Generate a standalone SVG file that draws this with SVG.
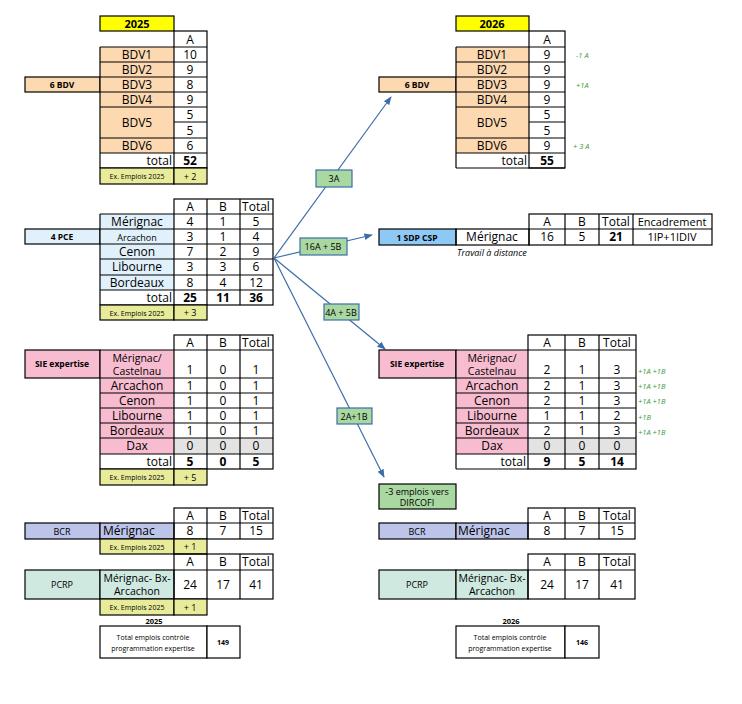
<svg xmlns="http://www.w3.org/2000/svg" width="742" height="704" viewBox="0 0 742 704">
<defs>
<style>
text{font-family:"Open Sans","Liberation Sans",sans-serif;fill:#000}
.c{stroke:#000;stroke-width:1.2}
.t{font-size:12px;text-anchor:middle}
.m{font-size:10.5px;text-anchor:middle}
.s{font-size:10px;font-weight:bold;text-anchor:middle}
.e{font-size:7px;text-anchor:middle}
.b{font-weight:bold}
.g{font-size:7.5px;fill:#3a9a3a;font-style:italic}
.lbl{fill:#a9d8a1;stroke:#3b6ea8;stroke-width:1.2}
.conn{stroke:#3b6ea8;stroke-width:1.2;fill:none;marker-end:url(#ah)}
.or{fill:#fcd9b0}.bl{fill:#e1f1fb}.pk{fill:#f8bcd0}.gr{fill:#e3e3e3}.ye{fill:#e8ec9a}.pu{fill:#bcc4ea}.tl{fill:#cfe9e1}
</style>
<marker id="ah" viewBox="0 0 10 10" refX="9" refY="5" markerWidth="7" markerHeight="7" orient="auto"><path d="M0,1 L10,5 L0,9 z" fill="#3b6ea8"/></marker>
</defs>
<rect width="742" height="704" fill="#fff"/>

<g id="connectors">
<line class="conn" x1="274" y1="258" x2="391" y2="97"/>
<line class="conn" x1="274" y1="258" x2="372" y2="235"/>
<line class="conn" x1="274" y1="258" x2="385" y2="349"/>
<line class="conn" x1="274" y1="258" x2="384" y2="477"/>
<rect class="lbl" x="316" y="170" width="36" height="17"/><text class="e" x="334" y="182" style="font-size:9px">3A</text>
<rect class="lbl" x="300" y="238" width="47" height="17"/><text class="e" x="323" y="250" style="font-size:9px">16A + 5B</text>
<rect class="lbl" x="324" y="304" width="35" height="16"/><text class="e" x="341" y="316" style="font-size:9px">4A + 5B</text>
<rect class="lbl" x="337" y="408" width="35" height="16"/><text class="e" x="354" y="420" style="font-size:9px">2A+1B</text>
</g>

<g id="bdv2025">
<rect x="100" y="16" width="74" height="15" fill="#ffff00" class="c"/><text class="s" x="137" y="28" style="font-size:11px">2025</text>
<rect x="25" y="77" width="75" height="15" class="or c"/><text class="s" x="62" y="88" style="font-size:8.5px">6 BDV</text>
<rect x="100" y="47" width="74" height="106" class="or"/>
<g class="c" fill="none">
<rect x="174" y="31" width="33" height="137"/>
<line x1="100" y1="47" x2="207" y2="47"/><line x1="100" y1="62" x2="207" y2="62"/><line x1="100" y1="77" x2="207" y2="77"/><line x1="100" y1="92" x2="207" y2="92"/><line x1="100" y1="107" x2="207" y2="107"/><line x1="174" y1="122" x2="207" y2="122"/><line x1="100" y1="138" x2="207" y2="138"/><line x1="100" y1="153" x2="207" y2="153"/><line x1="100" y1="168" x2="207" y2="168"/>
<line x1="100" y1="47" x2="100" y2="168"/>
</g>
<rect x="100" y="168" width="74" height="16" class="ye c"/><rect x="174" y="168" width="33" height="16" class="ye c"/>
<text class="t" x="190" y="44">A</text>
<text class="t" x="137" y="59">BDV1</text><text class="t" x="190" y="59">10</text>
<text class="t" x="137" y="74">BDV2</text><text class="t" x="190" y="74">9</text>
<text class="t" x="137" y="89">BDV3</text><text class="t" x="190" y="89">8</text>
<text class="t" x="137" y="104">BDV4</text><text class="t" x="190" y="104">9</text>
<text class="t" x="137" y="127">BDV5</text><text class="t" x="190" y="119">5</text><text class="t" x="190" y="135">5</text>
<text class="t" x="137" y="150">BDV6</text><text class="t" x="190" y="150">6</text>
<text class="t" x="172" y="165" style="text-anchor:end">total</text><text class="t b" x="190" y="165">52</text>
<text class="e" x="137" y="179">Ex. Emplois 2025</text><text class="e" x="190" y="180" style="font-size:9px">+ 2</text>
</g>

<g id="pce2025">
<rect x="25" y="229" width="75" height="15" class="bl c"/><text class="s" x="62" y="240" style="font-size:8.5px">4 PCE</text>
<rect x="100" y="214" width="74" height="76" class="bl"/>
<g class="c" fill="none">
<rect x="174" y="199" width="99" height="106"/>
<line x1="207" y1="199" x2="207" y2="305"/><line x1="240" y1="199" x2="240" y2="305"/>
<line x1="100" y1="214" x2="273" y2="214"/><line x1="100" y1="229" x2="273" y2="229"/><line x1="100" y1="244" x2="273" y2="244"/><line x1="100" y1="259" x2="273" y2="259"/><line x1="100" y1="275" x2="273" y2="275"/><line x1="100" y1="290" x2="273" y2="290"/><line x1="100" y1="305" x2="174" y2="305"/>
<line x1="100" y1="214" x2="100" y2="305"/>
</g>
<rect x="100" y="305" width="74" height="15" class="ye c"/><rect x="174" y="305" width="33" height="15" class="ye c"/>
<text class="t" x="190" y="211">A</text><text class="t" x="223" y="211">B</text><text class="t" x="256" y="211">Total</text>
<text class="t" x="137" y="226">Mérignac</text><text class="t" x="190" y="226">4</text><text class="t" x="223" y="226">1</text><text class="t" x="256" y="226">5</text>
<text class="t" x="137" y="241" style="font-size:9px">Arcachon</text><text class="t" x="190" y="241">3</text><text class="t" x="223" y="241">1</text><text class="t" x="256" y="241">4</text>
<text class="t" x="137" y="256">Cenon</text><text class="t" x="190" y="256">7</text><text class="t" x="223" y="256">2</text><text class="t" x="256" y="256">9</text>
<text class="t" x="137" y="271">Libourne</text><text class="t" x="190" y="271">3</text><text class="t" x="223" y="271">3</text><text class="t" x="256" y="271">6</text>
<text class="t" x="137" y="287">Bordeaux</text><text class="t" x="190" y="287">8</text><text class="t" x="223" y="287">4</text><text class="t" x="256" y="287">12</text>
<text class="t" x="172" y="302" style="text-anchor:end">total</text><text class="t b" x="190" y="302">25</text><text class="t b" x="223" y="302">11</text><text class="t b" x="256" y="302">36</text>
<text class="e" x="137" y="316">Ex. Emplois 2025</text><text class="e" x="190" y="316" style="font-size:9px">+ 3</text>
</g>

<g id="sie2025">
<rect x="25" y="350" width="75" height="28" class="pk c"/><text class="s" x="62" y="367" style="font-size:8.5px">SIE expertise</text>
<rect x="100" y="350" width="74" height="104" class="pk"/><rect x="174" y="438" width="99" height="16" class="gr"/>
<g class="c" fill="none">
<rect x="174" y="335" width="99" height="134"/>
<line x1="207" y1="335" x2="207" y2="469"/><line x1="240" y1="335" x2="240" y2="469"/>
<line x1="100" y1="350" x2="273" y2="350"/><line x1="100" y1="378" x2="273" y2="378"/><line x1="100" y1="393" x2="273" y2="393"/><line x1="100" y1="408" x2="273" y2="408"/><line x1="100" y1="423" x2="273" y2="423"/><line x1="100" y1="438" x2="273" y2="438"/><line x1="100" y1="454" x2="273" y2="454"/><line x1="100" y1="469" x2="174" y2="469"/>
<line x1="100" y1="350" x2="100" y2="469"/>
</g>
<rect x="100" y="469" width="74" height="16" class="ye c"/><rect x="174" y="469" width="33" height="16" class="ye c"/>
<text class="t" x="190" y="347">A</text><text class="t" x="223" y="347">B</text><text class="t" x="256" y="347">Total</text>
<text class="m" x="137" y="362">Mérignac/</text><text class="m" x="137" y="375">Castelnau</text><text class="t" x="190" y="374">1</text><text class="t" x="223" y="374">0</text><text class="t" x="256" y="374">1</text>
<text class="t" x="137" y="390">Arcachon</text><text class="t" x="190" y="390">1</text><text class="t" x="223" y="390">0</text><text class="t" x="256" y="390">1</text>
<text class="t" x="137" y="405">Cenon</text><text class="t" x="190" y="405">1</text><text class="t" x="223" y="405">0</text><text class="t" x="256" y="405">1</text>
<text class="t" x="137" y="420">Libourne</text><text class="t" x="190" y="420">1</text><text class="t" x="223" y="420">0</text><text class="t" x="256" y="420">1</text>
<text class="t" x="137" y="435">Bordeaux</text><text class="t" x="190" y="435">1</text><text class="t" x="223" y="435">0</text><text class="t" x="256" y="435">1</text>
<text class="t" x="137" y="450">Dax</text><text class="t" x="190" y="450">0</text><text class="t" x="223" y="450">0</text><text class="t" x="256" y="450">0</text>
<text class="t" x="172" y="466" style="text-anchor:end">total</text><text class="t b" x="190" y="466">5</text><text class="t b" x="223" y="466">0</text><text class="t b" x="256" y="466">5</text>
<text class="e" x="137" y="480">Ex. Emplois 2025</text><text class="e" x="190" y="481" style="font-size:9px">+ 5</text>
</g>

<g id="bcr2025">
<rect x="25" y="523" width="75" height="16" class="pu c"/><text class="t" x="62" y="535" style="font-size:9px">BCR</text>
<rect x="100" y="523" width="74" height="16" class="pu c"/><text class="t" x="103" y="535" style="text-anchor:start">Mérignac</text>
<g class="c" fill="none"><rect x="174" y="508" width="99" height="31"/><line x1="207" y1="508" x2="207" y2="539"/><line x1="240" y1="508" x2="240" y2="539"/><line x1="174" y1="523" x2="273" y2="523"/></g>
<text class="t" x="190" y="520">A</text><text class="t" x="223" y="520">B</text><text class="t" x="256" y="520">Total</text>
<text class="t" x="190" y="535">8</text><text class="t" x="223" y="535">7</text><text class="t" x="256" y="535">15</text>
<rect x="100" y="539" width="74" height="15" class="ye c"/><rect x="174" y="539" width="33" height="15" class="ye c"/>
<text class="e" x="137" y="550">Ex. Emplois 2025</text><text class="e" x="190" y="550" style="font-size:9px">+ 1</text>
</g>

<g id="pcrp2025">
<rect x="25" y="570" width="75" height="29" class="tl c"/><text class="t" x="62" y="588" style="font-size:9px">PCRP</text>
<rect x="100" y="570" width="74" height="29" class="tl c"/><text class="m" x="137" y="582">Mérignac- Bx-</text><text class="m" x="137" y="595">Arcachon</text>
<g class="c" fill="none"><rect x="174" y="554" width="99" height="45"/><line x1="207" y1="554" x2="207" y2="599"/><line x1="240" y1="554" x2="240" y2="599"/><line x1="174" y1="570" x2="273" y2="570"/></g>
<text class="t" x="190" y="566">A</text><text class="t" x="223" y="566">B</text><text class="t" x="256" y="566">Total</text>
<text class="t" x="190" y="589">24</text><text class="t" x="223" y="589">17</text><text class="t" x="256" y="589">41</text>
<rect x="100" y="599" width="74" height="16" class="ye c"/><rect x="174" y="599" width="33" height="16" class="ye c"/>
<text class="e" x="137" y="610">Ex. Emplois 2025</text><text class="e" x="190" y="611" style="font-size:9px">+ 1</text>
</g>

<g id="total2025">
<text class="s" x="154" y="624" style="font-size:7.5px">2025</text>
<rect x="100" y="626" width="107" height="32" class="c" fill="#fff"/><rect x="207" y="626" width="33" height="32" class="c" fill="#fff"/>
<text class="e" x="153" y="640">Total emplois contrôle</text><text class="e" x="153" y="651">programmation expertise</text>
<text class="s" x="223" y="645" style="font-size:7px">149</text>
</g>

<g id="bdv2026">
<rect x="456" y="16" width="73" height="15" fill="#ffff00" class="c"/><text class="s" x="492" y="28" style="font-size:11px">2026</text>
<rect x="379" y="77" width="77" height="15" class="or c"/><text class="s" x="417" y="88" style="font-size:8.5px">6 BDV</text>
<rect x="456" y="47" width="73" height="106" class="or"/>
<g class="c" fill="none">
<rect x="529" y="31" width="36" height="137"/>
<line x1="456" y1="47" x2="565" y2="47"/><line x1="456" y1="62" x2="565" y2="62"/><line x1="456" y1="77" x2="565" y2="77"/><line x1="456" y1="92" x2="565" y2="92"/><line x1="456" y1="107" x2="565" y2="107"/><line x1="529" y1="122" x2="565" y2="122"/><line x1="456" y1="138" x2="565" y2="138"/><line x1="456" y1="153" x2="565" y2="153"/><line x1="456" y1="168" x2="565" y2="168"/>
<line x1="456" y1="47" x2="456" y2="168"/>
</g>
<text class="t" x="547" y="44">A</text>
<text class="t" x="492" y="59">BDV1</text><text class="t" x="547" y="59">9</text><text class="g" x="576" y="58">-1 A</text>
<text class="t" x="492" y="74">BDV2</text><text class="t" x="547" y="74">9</text>
<text class="t" x="492" y="89">BDV3</text><text class="t" x="547" y="89">9</text><text class="g" x="576" y="88">+1A</text>
<text class="t" x="492" y="104">BDV4</text><text class="t" x="547" y="104">9</text>
<text class="t" x="492" y="127">BDV5</text><text class="t" x="547" y="119">5</text><text class="t" x="547" y="135">5</text>
<text class="t" x="492" y="150">BDV6</text><text class="t" x="547" y="150">9</text><text class="g" x="573" y="149">+ 3 A</text>
<text class="t" x="527" y="165" style="text-anchor:end">total</text><text class="t b" x="547" y="165">55</text>
</g>

<g id="sdp2026">
<rect x="379" y="229" width="77" height="16" fill="#8ec8f5" class="c"/><text class="s" x="417" y="241" style="font-size:8.5px">1 SDP  CSP</text>
<g class="c" fill="none"><rect x="456" y="229" width="73" height="16"/><rect x="529" y="214" width="183" height="31"/><line x1="565" y1="214" x2="565" y2="245"/><line x1="599" y1="214" x2="599" y2="245"/><line x1="633" y1="214" x2="633" y2="245"/><line x1="529" y1="229" x2="712" y2="229"/></g>
<text class="t" x="547" y="226">A</text><text class="t" x="582" y="226">B</text><text class="t" x="616" y="226">Total</text><text class="t" x="672" y="226" style="font-size:11px">Encadrement</text>
<text class="t" x="492" y="241">Mérignac</text><text class="t" x="547" y="241">16</text><text class="t" x="582" y="241">5</text><text class="t b" x="616" y="241">21</text><text class="t" x="672" y="241" style="font-size:11px">1IP+1IDIV</text>
<text x="457" y="256" style="font-size:9px;font-style:italic">Travail à distance</text>
</g>

<g id="sie2026">
<rect x="379" y="350" width="77" height="28" class="pk c"/><text class="s" x="417" y="367" style="font-size:8.5px">SIE expertise</text>
<rect x="456" y="350" width="72" height="104" class="pk"/><rect x="528" y="438" width="108" height="16" class="gr"/>
<g class="c" fill="none">
<rect x="528" y="335" width="108" height="134"/><line x1="456" y1="350" x2="456" y2="469"/><line x1="456" y1="469" x2="528" y2="469"/>
<line x1="565" y1="335" x2="565" y2="469"/><line x1="599" y1="335" x2="599" y2="469"/>
<line x1="456" y1="350" x2="636" y2="350"/><line x1="456" y1="378" x2="636" y2="378"/><line x1="456" y1="393" x2="636" y2="393"/><line x1="456" y1="408" x2="636" y2="408"/><line x1="456" y1="423" x2="636" y2="423"/><line x1="456" y1="438" x2="636" y2="438"/><line x1="456" y1="454" x2="636" y2="454"/>
</g>
<text class="t" x="547" y="347">A</text><text class="t" x="582" y="347">B</text><text class="t" x="617" y="347">Total</text>
<text class="m" x="492" y="362">Mérignac/</text><text class="m" x="492" y="375">Castelnau</text><text class="t" x="547" y="374">2</text><text class="t" x="582" y="374">1</text><text class="t" x="617" y="374">3</text><text class="g" x="638" y="374">+1A +1B</text>
<text class="t" x="492" y="390">Arcachon</text><text class="t" x="547" y="390">2</text><text class="t" x="582" y="390">1</text><text class="t" x="617" y="390">3</text><text class="g" x="638" y="389">+1A +1B</text>
<text class="t" x="492" y="405">Cenon</text><text class="t" x="547" y="405">2</text><text class="t" x="582" y="405">1</text><text class="t" x="617" y="405">3</text><text class="g" x="638" y="404">+1A +1B</text>
<text class="t" x="492" y="420">Libourne</text><text class="t" x="547" y="420">1</text><text class="t" x="582" y="420">1</text><text class="t" x="617" y="420">2</text><text class="g" x="638" y="420">+1B</text>
<text class="t" x="492" y="435">Bordeaux</text><text class="t" x="547" y="435">2</text><text class="t" x="582" y="435">1</text><text class="t" x="617" y="435">3</text><text class="g" x="638" y="435">+1A +1B</text>
<text class="t" x="492" y="450">Dax</text><text class="t" x="547" y="450">0</text><text class="t" x="582" y="450">0</text><text class="t" x="617" y="450">0</text>
<text class="t" x="526" y="466" style="text-anchor:end">total</text><text class="t b" x="547" y="466">9</text><text class="t b" x="582" y="466">5</text><text class="t b" x="617" y="466">14</text>
</g>

<g id="dircofi">
<rect x="379" y="484" width="77" height="25" fill="#a9d8a1" class="c"/>
<text class="t" x="417" y="495" style="font-size:9px">-3 emplois vers</text><text class="t" x="417" y="506" style="font-size:9px">DIRCOFI</text>
</g>

<g id="bcr2026">
<rect x="379" y="523" width="77" height="16" class="pu c"/><text class="t" x="417" y="535" style="font-size:9px">BCR</text>
<rect x="456" y="523" width="72" height="16" class="pu c"/><text class="t" x="458" y="535" style="text-anchor:start">Mérignac</text>
<g class="c" fill="none"><rect x="528" y="508" width="107" height="31"/><line x1="565" y1="508" x2="565" y2="539"/><line x1="599" y1="508" x2="599" y2="539"/><line x1="528" y1="523" x2="635" y2="523"/></g>
<text class="t" x="547" y="520">A</text><text class="t" x="582" y="520">B</text><text class="t" x="617" y="520">Total</text>
<text class="t" x="547" y="535">8</text><text class="t" x="582" y="535">7</text><text class="t" x="617" y="535">15</text>
</g>

<g id="pcrp2026">
<rect x="379" y="570" width="77" height="29" class="tl c"/><text class="t" x="417" y="588" style="font-size:9px">PCRP</text>
<rect x="456" y="570" width="72" height="29" class="tl c"/><text class="m" x="492" y="582">Mérignac- Bx-</text><text class="m" x="492" y="595">Arcachon</text>
<g class="c" fill="none"><rect x="528" y="554" width="107" height="45"/><line x1="565" y1="554" x2="565" y2="599"/><line x1="599" y1="554" x2="599" y2="599"/><line x1="528" y1="570" x2="635" y2="570"/></g>
<text class="t" x="547" y="566">A</text><text class="t" x="582" y="566">B</text><text class="t" x="617" y="566">Total</text>
<text class="t" x="547" y="589">24</text><text class="t" x="582" y="589">17</text><text class="t" x="617" y="589">41</text>
</g>

<g id="total2026">
<text class="s" x="511" y="624" style="font-size:7.5px">2026</text>
<rect x="456" y="626" width="109" height="32" class="c" fill="#fff"/><rect x="565" y="626" width="34" height="32" class="c" fill="#fff"/>
<text class="e" x="510" y="640">Total emplois contrôle</text><text class="e" x="510" y="651">programmation expertise</text>
<text class="s" x="582" y="645" style="font-size:7px">146</text>
</g>
</svg>
